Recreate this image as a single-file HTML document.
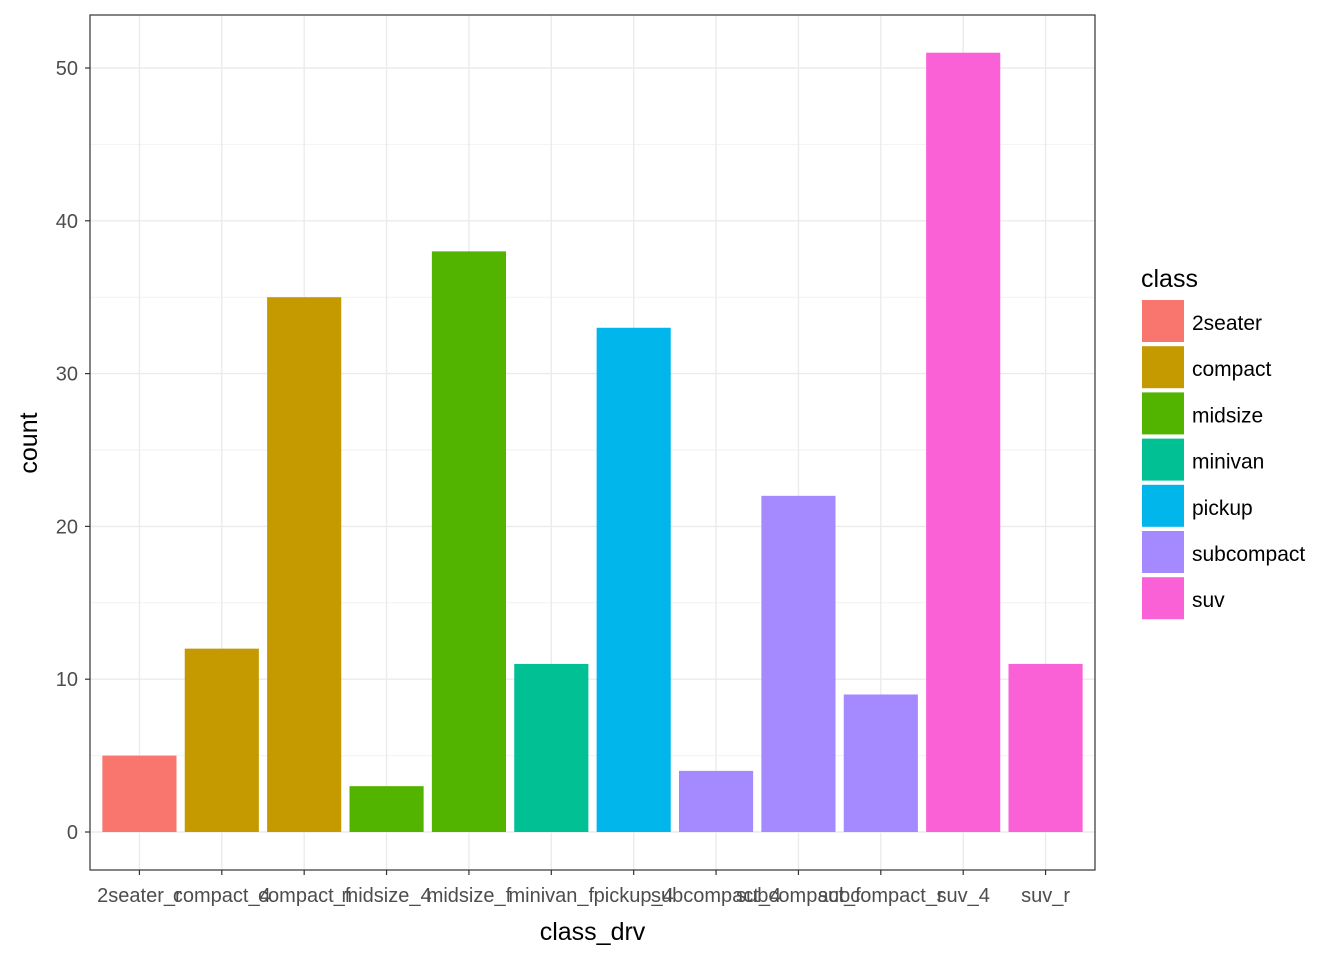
<!DOCTYPE html>
<html><head><meta charset="utf-8"><style>
body{margin:0;background:#fff;font-family:"Liberation Sans",Arial,sans-serif;}
svg text{font-family:"Liberation Sans",Arial,sans-serif;}
</style></head><body>
<svg id="chart" width="1344" height="960">
<rect x="0" y="0" width="1344" height="960" fill="#fff"/>
<g id="grid"></g><g id="bars"></g><g id="axes"></g><g id="legend"></g>
</svg>
<script>
const categories=["2seater_r","compact_4","compact_f","midsize_4","midsize_f","minivan_f","pickup_4","subcompact_4","subcompact_f","subcompact_r","suv_4","suv_r"];
const counts=[5,12,35,3,38,11,33,4,22,9,51,11];
const classes=["2seater","compact","compact","midsize","midsize","minivan","pickup","subcompact","subcompact","subcompact","suv","suv"];
const legendLabels=["2seater","compact","midsize","minivan","pickup","subcompact","suv"];
const legendColors=["#F8766D","#C49A00","#53B400","#00C094","#00B6EB","#A58AFF","#FB61D7"];
const yTicks=[0,10,20,30,40,50];
const NS="http://www.w3.org/2000/svg";
const L=90,R=1095,T=15,B=870;
const y0=832,ppu=(832-68)/50;
const yScale=v=>y0-v*ppu;
const step=(R-L)/(categories.length+0.2);
const xScale=i=>L+step*(0.6+i);
const bw=step*0.9;
function mk(tag,attrs,parent,text){const e=document.createElementNS(NS,tag);for(const k in attrs)e.setAttribute(k,attrs[k]);if(text!==undefined)e.textContent=text;parent.appendChild(e);return e;}
const grid=document.getElementById('grid'),bars=document.getElementById('bars'),axes=document.getElementById('axes'),leg=document.getElementById('legend');
// minor grid
for(let i=0;i<yTicks.length-1;i++){const v=(yTicks[i]+yTicks[i+1])/2;mk('line',{x1:L,x2:R,y1:yScale(v),y2:yScale(v),stroke:'#f2f2f2','stroke-width':1},grid);}
yTicks.forEach(v=>{const l=mk('line',{x1:L,x2:R,y1:yScale(v),y2:yScale(v),stroke:'#ebebeb','stroke-width':1.4},grid);});
categories.forEach((c,i)=>{mk('line',{x1:xScale(i),x2:xScale(i),y1:T,y2:B,stroke:'#ebebeb','stroke-width':1.4},grid);});
categories.forEach((c,i)=>{
const r=mk('rect',{x:xScale(i)-bw/2,y:yScale(counts[i]),width:bw,height:yScale(0)-yScale(counts[i]),fill:legendColors[legendLabels.indexOf(classes[i])]},bars);


});
mk('rect',{x:L,y:T,width:R-L,height:B-T,fill:'none',stroke:'#333','stroke-width':1.2},axes);
yTicks.forEach(v=>{
mk('line',{x1:L-5,x2:L,y1:yScale(v),y2:yScale(v),stroke:'#333','stroke-width':1.2},axes);
const t=mk('text',{x:L-12,y:yScale(v)+7,'text-anchor':'end','font-size':20,fill:'#4d4d4d'},axes,v);


});
categories.forEach((c,i)=>{
mk('line',{x1:xScale(i),x2:xScale(i),y1:B,y2:B+5,stroke:'#333','stroke-width':1.2},axes);
const t=mk('text',{x:xScale(i),y:B+32,'text-anchor':'middle','font-size':20,fill:'#4d4d4d'},axes,c);


});
const xt=mk('text',{x:(L+R)/2,y:940,'text-anchor':'middle','font-size':25,fill:'#000'},axes,'class_drv');


const yt=mk('text',{x:37,y:443,'text-anchor':'middle','font-size':25,fill:'#000',transform:'rotate(-90 37 443)'},axes,'count');


const lt=mk('text',{x:1141,y:287,'font-size':25,fill:'#000'},leg,'class');


legendLabels.forEach((n,i)=>{
const g=mk('g',{},leg);


mk('rect',{x:1142,y:300+i*46.2,width:42,height:42,fill:legendColors[i]},g);
mk('text',{x:1192,y:330+i*46.2,'font-size':21,fill:'#000'},g,n);
});
</script>
</body></html>
